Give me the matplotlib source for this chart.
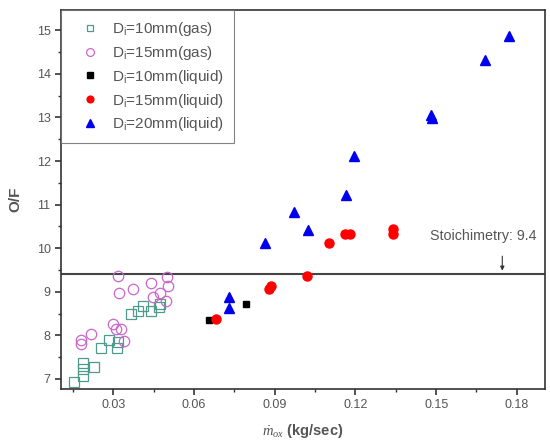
import matplotlib
matplotlib.use("Agg")
import matplotlib.pyplot as plt
from matplotlib.ticker import MultipleLocator

plt.rcParams['font.family'] = ['Liberation Sans', 'DejaVu Sans']
plt.rcParams['mathtext.fontset'] = 'custom'
plt.rcParams['mathtext.rm'] = 'Liberation Sans'
plt.rcParams['mathtext.it'] = 'Liberation Serif:italic'

# Di = 10 mm (gas)
gas10_x = [0.0152, 0.0185, 0.0185, 0.0185, 0.0226, 0.0252, 0.0283, 0.0313, 0.0318,
           0.0366, 0.0390, 0.0410, 0.0440, 0.0471, 0.0474]
gas10_y = [6.93, 7.07, 7.23, 7.37, 7.27, 7.72, 7.90, 7.72, 7.85,
           8.50, 8.55, 8.67, 8.56, 8.64, 8.72]
# Di = 15 mm (gas)
gas15_x = [0.0179, 0.0179, 0.0216, 0.0298, 0.0311, 0.0327, 0.0340, 0.0315, 0.0319,
           0.0372, 0.0439, 0.0447, 0.0472, 0.0499, 0.0501, 0.0496]
gas15_y = [7.89, 7.79, 8.03, 8.27, 8.15, 8.14, 7.88, 9.36, 8.97,
           9.06, 9.19, 8.88, 8.96, 9.33, 9.14, 8.78]
# Di = 10 mm (liquid)
liq10_x = [0.0657, 0.0791]
liq10_y = [8.35, 8.72]
# Di = 15 mm (liquid)
liq15_x = [0.0681, 0.0880, 0.0885, 0.1020, 0.1100, 0.1160, 0.1180, 0.1340, 0.1340]
liq15_y = [8.37, 9.07, 9.14, 9.37, 10.12, 10.32, 10.33, 10.32, 10.43]
# Di = 20 mm (liquid)
liq20_x = [0.0731, 0.0731, 0.0862, 0.0970, 0.1022, 0.1166, 0.1196, 0.1481, 0.1486,
           0.1683, 0.1770]
liq20_y = [8.63, 8.87, 10.12, 10.83, 10.41, 11.22, 12.12, 13.06, 12.98,
           14.31, 14.87]

stoich = 9.4

fig = plt.figure(figsize=(5.5, 4.44), dpi=100)
ax = fig.add_axes([0.111, 0.124, 0.88, 0.853])

ax.plot(gas10_x, gas10_y, 's', ms=6.5, mfc='none', mec='#4f9a8c', mew=0.9,
        label=r'D$_\mathrm{i}$=10mm(gas)')
ax.plot(gas15_x, gas15_y, 'o', ms=7.5, mfc='none', mec='#cc66cc', mew=0.9,
        label=r'D$_\mathrm{i}$=15mm(gas)')
ax.plot(liq10_x, liq10_y, 's', ms=5, color='black',
        label=r'D$_\mathrm{i}$=10mm(liquid)')
ax.plot(liq15_x, liq15_y, 'o', ms=6.5, color='#ff0000',
        label=r'D$_\mathrm{i}$=15mm(liquid)')
ax.plot(liq20_x, liq20_y, '^', ms=7.5, color='#0000ee',
        label=r'D$_\mathrm{i}$=20mm(liquid)')

ax.axhline(stoich, color='#444444', lw=1.5, zorder=1)
ax.text(0.1676, 10.28, 'Stoichimetry: 9.4', ha='center', va='center',
        color='#555555', fontsize=10.3)
ax.annotate('', xy=(0.1746, 9.42), xytext=(0.1746, 9.88),
            arrowprops=dict(arrowstyle='-|>', color='#333333', lw=0.8,
                            mutation_scale=6))

ax.set_xlim(0.0105, 0.1905)
ax.set_ylim(6.77, 15.46)
ax.xaxis.set_major_locator(MultipleLocator(0.03))
ax.xaxis.set_minor_locator(MultipleLocator(0.015))
ax.yaxis.set_major_locator(MultipleLocator(1))
ax.yaxis.set_minor_locator(MultipleLocator(0.5))
ax.xaxis.set_major_formatter(plt.FuncFormatter(lambda v, p: f'{v:.2f}'))
ax.tick_params(which='major', direction='out', length=4, width=1.2,
               colors='#333333', labelcolor='#555555', labelsize=9)
ax.tick_params(which='minor', direction='out', length=2.5, width=1.0,
               colors='#333333')
for s in ax.spines.values():
    s.set_color('#333333')
    s.set_linewidth(1.2)

ax.set_ylabel('O/F', fontsize=11, fontweight='bold', color='#555555', labelpad=10)
ax.set_xlabel(r'$\dot{m}_{ox}$ (kg/sec)', fontsize=10.5, fontweight='bold',
              color='#555555', labelpad=8)

leg = ax.legend(loc='upper left', bbox_to_anchor=(0.0, 1.0), fontsize=11,
                frameon=True, fancybox=False, borderpad=0.65, labelspacing=0.38,
                handlelength=2.5, handletextpad=0.2, markerscale=0.75,
                borderaxespad=0.0, labelcolor='#555555')
leg.get_frame().set_edgecolor('#666666')
leg.get_frame().set_linewidth(0.8)

fig.savefig('out.png', dpi=100)
